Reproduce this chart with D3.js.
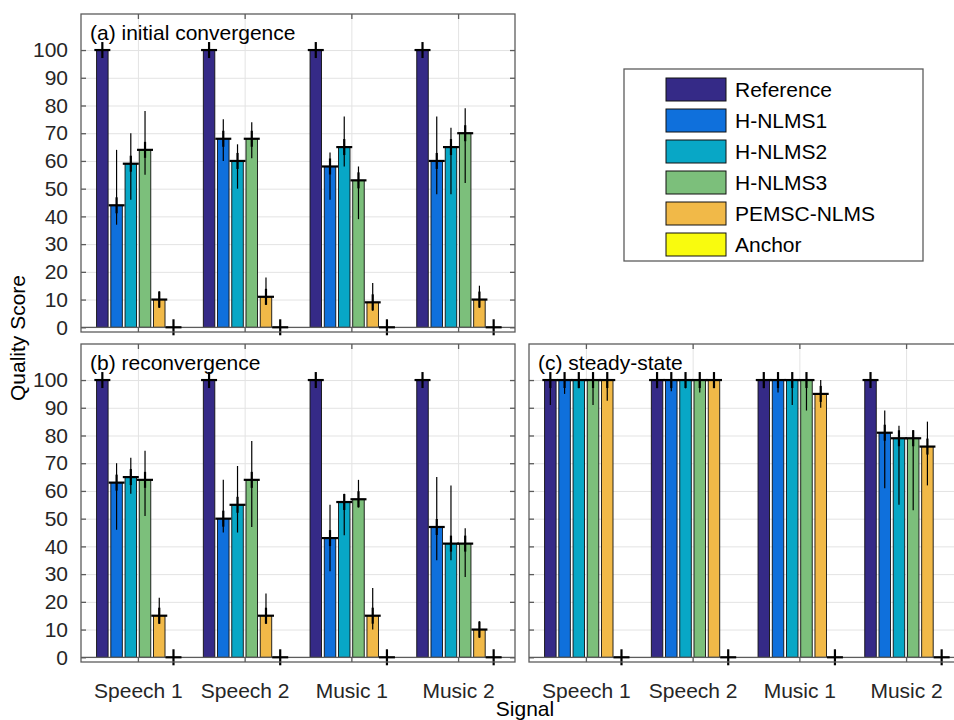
<!DOCTYPE html>
<html>
<head>
<meta charset="utf-8">
<script src="https://cdn.jsdelivr.net/npm/d3@7"></script>
<style>
  html, body { margin: 0; padding: 0; background: #fff; }
  svg { display: block; font-family: "Liberation Sans", Arial, Helvetica, sans-serif; }
</style>
</head>
<body>
<svg id="chart" width="954" height="720"></svg>
<script>
// ---------------- DATA ----------------
const categories = ["Speech 1", "Speech 2", "Music 1", "Music 2"];
const seriesNames = ["Reference", "H-NLMS1", "H-NLMS2", "H-NLMS3", "PEMSC-NLMS", "Anchor"];
const seriesColors = ["#352a87", "#0f70dc", "#08a7c6", "#7cbf7b", "#f1b948", "#f9fb0e"];
const yTicks = [0, 10, 20, 30, 40, 50, 60, 70, 80, 90, 100];

// (a) initial convergence : rows = series, cols = categories
const aMed  = [[100,100,100,100],[44,68,58,60],[59,60,65,65],[64,68,53,70],[10,11,9,10],[0,0,0,0]];
const aLow  = [[100,100,100,100],[37,60,46,48],[46,50,58,48],[55,61,39,52],[7,8,6,7],[0,0,0,0]];
const aHigh = [[100,100,100,100],[64,75,63,76],[70,66,76,72],[78,74,58,79],[13,18,16,15],[0,0,0,0]];

// (b) reconvergence
const bMed  = [[100,100,100,100],[63,50,43,47],[65,55,56,41],[64,64,57,41],[15,15,15,10],[0,0,0,0]];
const bLow  = [[100,100,100,100],[46,45,31,35],[59,45,44,35],[51,47,54,29],[12,12,10,7],[0,0,0,0]];
const bHigh = [[100,100,100,100],[70,64,55,65],[72,69,59,62],[74.5,78,64,46.5],[21.5,23,25,13],[0,0,0,0]];

// (c) steady-state
const cMed  = [[100,100,100,100],[100,100,100,81],[100,100,100,79],[100,100,100,79],[100,100,95,76],[0,0,0,0]];
const cLow  = [[91,97,97,100],[95,96,95.5,61],[97,97,91,55],[91,95.5,89,53],[92.5,97,90,62],[0,0,0,0]];
const cHigh = [[100,100,100,100],[100,100,100,89],[100,100,100,83.5],[100,100,100,82],[100,100,100,85],[0,0,0,0]];

const panels = [
  { label: "(a) initial convergence", med: aMed, low: aLow, high: aHigh, x0: 81,  y0: 14,  yLabels: true,  xLabels: false },
  { label: "(b) reconvergence",       med: bMed, low: bLow, high: bHigh, x0: 81,  y0: 344, yLabels: true,  xLabels: true },
  { label: "(c) steady-state",        med: cMed, low: cLow, high: cHigh, x0: 529, y0: 344, yLabels: false, xLabels: true }
];

// ---------------- LAYOUT ----------------
const W = 434, H = 318;
const xDomain = [0.4667, 4.5333];
const yDomain = [-1.7, 113];
const nS = seriesNames.length;
const slot = 0.8 / nS;           // group width 0.8
const barW = 11.5;               // px
const plusHalf = 8;
const fontSize = 21;

const svg = d3.select("#chart");

panels.forEach(p => {
  const g = svg.append("g").attr("transform", `translate(${p.x0},${p.y0})`);
  const x = d3.scaleLinear().domain(xDomain).range([0, W]);
  const y = d3.scaleLinear().domain(yDomain).range([H, 0]);

  // gridlines
  const gy = g.append("g")
    .call(d3.axisLeft(y).tickValues(yTicks).tickSize(-W).tickFormat(""));
  const gx = g.append("g")
    .call(d3.axisBottom(x).tickValues([1,2,3,4]).tickSize(H).tickFormat(""));
  [gy, gx].forEach(s => {
    s.select(".domain").remove();
    s.selectAll("line").attr("stroke", "#e3e3e3").attr("stroke-width", 1);
  });

  // bars
  const flat = [];
  p.med.forEach((row, si) => row.forEach((v, ci) => {
    flat.push({ si, ci, v, lo: p.low[si][ci], hi: p.high[si][ci],
                xc: x(ci + 1 + (si - (nS - 1) / 2) * slot) });
  }));

  g.append("g").selectAll("rect").data(flat.filter(d => d.v > 0)).join("rect")
    .attr("x", d => d.xc - barW / 2)
    .attr("width", barW)
    .attr("y", d => y(d.v))
    .attr("height", d => y(0) - y(d.v))
    .attr("fill", d => seriesColors[d.si])
    .attr("stroke", "#111")
    .attr("stroke-width", 0.9);

  // baseline
  g.append("line")
    .attr("x1", 0).attr("x2", W)
    .attr("y1", y(0)).attr("y2", y(0))
    .attr("stroke", "#5c5c5c").attr("stroke-width", 1.2);

  // thin range lines
  g.append("g").selectAll("line").data(flat).join("line")
    .attr("x1", d => d.xc).attr("x2", d => d.xc)
    .attr("y1", d => y(d.lo)).attr("y2", d => y(d.hi))
    .attr("stroke", "#000").attr("stroke-width", 1.2);

  // plus markers
  const pm = g.append("g").selectAll("g").data(flat).join("g")
    .attr("transform", d => `translate(${d.xc},${y(d.v)})`);
  pm.append("line").attr("x1", -plusHalf).attr("x2", plusHalf).attr("y1", 0).attr("y2", 0)
    .attr("stroke", "#000").attr("stroke-width", 2.2);
  pm.append("line").attr("x1", 0).attr("x2", 0).attr("y1", -plusHalf).attr("y2", plusHalf)
    .attr("stroke", "#000").attr("stroke-width", 2.2);

  // box
  g.append("rect").attr("x", 0).attr("y", 0).attr("width", W).attr("height", H)
    .attr("fill", "none").attr("stroke", "#5c5c5c").attr("stroke-width", 1.3);

  // y ticks (left, inside) with labels
  const ya = g.append("g")
    .call(d3.axisLeft(y).tickValues(yTicks).tickSize(-5).tickPadding(13)
      .tickFormat(p.yLabels ? d3.format("d") : ""));
  // y ticks (right, inside)
  const yr = g.append("g").attr("transform", `translate(${W},0)`)
    .call(d3.axisRight(y).tickValues(yTicks).tickSize(-5).tickFormat(""));
  // x ticks bottom & top
  const xb = g.append("g").attr("transform", `translate(0,${H})`)
    .call(d3.axisBottom(x).tickValues([1,2,3,4]).tickSize(-5).tickPadding(21)
      .tickFormat(p.xLabels ? (d => categories[d - 1]) : ""));
  const xt = g.append("g")
    .call(d3.axisTop(x).tickValues([1,2,3,4]).tickSize(-5).tickFormat(""));
  [ya, yr, xb, xt].forEach(s => {
    s.select(".domain").remove();
    s.selectAll("line").attr("stroke", "#5c5c5c").attr("stroke-width", 1.3);
    s.selectAll("text").attr("fill", "#262626").style("font-size", fontSize + "px")
      .style("font-family", "'Liberation Sans', Arial, Helvetica, sans-serif");
  });

  // panel label
  g.append("text").attr("x", 9).attr("y", 26)
    .attr("fill", "#000").style("font-size", fontSize + "px")
    .text(p.label);
});

// axis titles
svg.append("text")
  .attr("transform", "translate(25,338) rotate(-90)")
  .attr("text-anchor", "middle")
  .attr("fill", "#000").style("font-size", fontSize + "px")
  .text("Quality Score");
svg.append("text")
  .attr("x", 525).attr("y", 716)
  .attr("text-anchor", "middle")
  .attr("fill", "#000").style("font-size", fontSize + "px")
  .text("Signal");

// legend
const lg = svg.append("g").attr("transform", "translate(624,69)");
lg.append("rect").attr("x", 0).attr("y", 0).attr("width", 299).attr("height", 192)
  .attr("fill", "#fff").attr("stroke", "#5c5c5c").attr("stroke-width", 1.3);
const li = lg.selectAll("g.item").data(seriesNames).join("g").attr("class", "item")
  .attr("transform", (d, i) => `translate(42,${9 + i * 31})`);
li.append("rect").attr("width", 60).attr("height", 23)
  .attr("fill", (d, i) => seriesColors[i]).attr("stroke", "#111").attr("stroke-width", 1);
li.append("text").attr("x", 69).attr("y", 19)
  .attr("fill", "#000").style("font-size", fontSize + "px")
  .text(d => d);
</script>
</body>
</html>
